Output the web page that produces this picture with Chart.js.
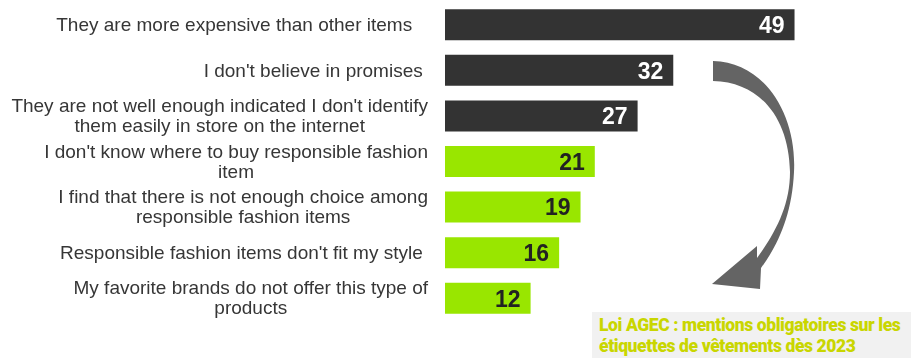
<!DOCTYPE html>
<html>
<head>
<meta charset="utf-8">
<script src="https://cdn.jsdelivr.net/npm/chart.js@4.4.0/dist/chart.umd.min.js"></script>
<style>
    body { margin: 0; background: #fff; }
    #wrap { position: relative; width: 911px; height: 358px; overflow: hidden; }
    #arrow { position: absolute; left: 0; top: 0; pointer-events: none; }
    #note {
        position: absolute; left: 592px; top: 312px; width: 312px; height: 46px;
        background: #f1f1f1; padding-left: 7px; white-space: nowrap;
        font-family: Roboto, sans-serif; font-weight: 900; font-size: 17.5px;
        letter-spacing: -0.4px; line-height: 21px; color: #c9d600; padding-top: 3px;
    }
</style>
</head>
<body>
<div id="wrap">
    <canvas id="reasonsChart"></canvas>
    <svg id="arrow" width="911" height="358">
        <path d="M 713 61 C 765 62, 797 115, 794 172 C 792 215, 778 245, 761 268 L 760 289 L 712 284 L 757 246 L 757 258 C 776 232, 790 205, 790 172 C 789 118, 760 82, 713 81 Z" fill="#646464"/>
    </svg>
    <div id="note">Loi AGEC : mentions obligatoires sur les<br>étiquettes de vêtements dès 2023</div>
</div>
<script>
const labels = [
    ['They are more expensive than other items   '],
    ["I don't believe in promises "],
    ["They are not well enough indicated I don't identify", 'them easily in store on the internet'],
    ["I don't know where to buy responsible fashion", 'item'],
    ['I find that there is not enough choice among', 'responsible fashion items'],
    ["Responsible fashion items don't fit my style "],
    ['My favorite brands do not offer this type of', 'products']
];
const values = [49, 32, 27, 21, 19, 16, 12];

const dark = '#333333';
const green = '#99e600';

// category labels on the left, each block right aligned, lines centred inside it
const sideLabels = {
    id: 'sideLabels',
    afterDraw(chart) {
        const ctx = chart.ctx;
        const y = chart.scales.y;
        ctx.save();
        ctx.font = '19px "Liberation Sans", Arial, sans-serif';
        ctx.fillStyle = '#363636';
        ctx.textBaseline = 'middle';
        ctx.textAlign = 'center';
        labels.forEach(function (lines, i) {
            const cy = y.getPixelForValue(i);
            const w = Math.max.apply(null, lines.map(function (l) { return ctx.measureText(l).width; }));
            const cx = 428 - w / 2;
            lines.forEach(function (l, j) {
                ctx.fillText(l, cx, cy + 1 + (j - (lines.length - 1) / 2) * 20);
            });
        });
        ctx.restore();
    }
};

// value at the end of every bar
const barValues = {
    id: 'barValues',
    afterDatasetsDraw(chart) {
        const ctx = chart.ctx;
        const meta = chart.getDatasetMeta(0);
        ctx.save();
        ctx.font = 'bold 23px "Liberation Sans", Arial, sans-serif';
        ctx.textAlign = 'right';
        ctx.textBaseline = 'middle';
        meta.data.forEach(function (bar, i) {
            ctx.fillStyle = i < 3 ? '#ffffff' : '#222222';
            ctx.fillText(values[i], bar.x - 10, bar.y + 2);
        });
        ctx.restore();
    }
};

const data = {
    labels: labels.map(function (l) { return l.join(' '); }),
    datasets: [{
        data: values,
        backgroundColor: function (c) { return c.dataIndex < 3 ? dark : green; },
        borderWidth: 0,
        barPercentage: 0.68,
        categoryPercentage: 1
    }]
};

const config = {
    type: 'bar',
    data: data,
    options: {
        indexAxis: 'y',
        responsive: true,
        maintainAspectRatio: false,
        animation: false,
        layout: { padding: { left: 445, right: 38, top: 2, bottom: 37 } },
        plugins: {
            legend: { display: false },
            tooltip: { enabled: false }
        },
        scales: {
            x: { display: false, min: 0, max: 60 },
            y: { display: false }
        }
    },
    plugins: [sideLabels, barValues]
};

const myChart = new Chart(document.getElementById('reasonsChart'), config);
</script>
</body>
</html>
